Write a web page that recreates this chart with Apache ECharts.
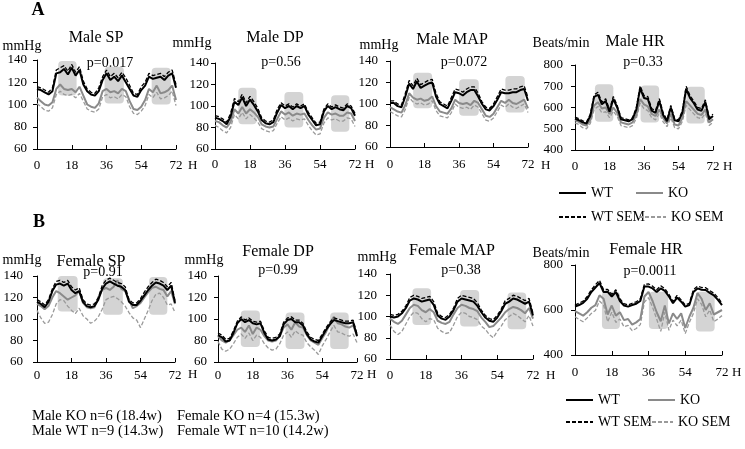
<!DOCTYPE html>
<html><head><meta charset="utf-8">
<script src="https://cdn.jsdelivr.net/npm/echarts@6/dist/echarts.min.js"></script>
<style>html,body{margin:0;padding:0;background:#fff}#c{width:745px;height:449px}</style>
</head><body><div id="c"></div>
<script>
// ---------- DATA ----------
const hours = [0,2,4,6,8,10,12,14,16,18,20,22,24,26,28,30,32,34,36,38,40,42,44,46,48,50,52,54,56,58,60,62,64,66,68,70,72];
const xTicks = [0,18,36,54,72];

const maleSP_WT    = [114,113,111,109,112,128,129,132,127,133,126,131,118,112,109,108,112,122,128,122,125,121,126,120,114,108,107,113,117,125,123,124,125,122,126,128,115];
const maleSP_WTSEM = [116,115,113,111,115,131,133,135,130,136,129,134,121,114,111,110,115,125,131,125,128,124,129,124,117,110,109,116,120,128,126,127,128,125,129,131,118];
const maleSP_KO    = [106,103,100,99,102,114,118,114,113,114,111,116,108,100,98,97,101,112,114,111,112,110,114,112,103,96,95,98,104,114,111,117,110,111,113,117,104];
const maleSP_KOSEM = [101,98,95,94,97,109,112,109,108,109,106,110,103,96,94,93,96,107,109,106,107,105,109,107,98,92,91,94,99,109,106,111,105,106,108,112,99];
const maleSP_dark  = [[11,20.5,108,139],[35,45,101,134],[59.4,69.3,100,133]];

const maleDP_WT    = [89,88,86,83,90,104,101,108,100,106,101,95,87,84,83,85,94,101,98,100,97,100,98,100,92,87,82,83,95,100,97,99,97,96,100,98,91];
const maleDP_WTSEM = [91,90,88,85,93,107,104,111,103,109,104,98,89,86,85,87,97,103,100,102,99,102,100,102,94,89,84,85,97,102,99,101,99,98,102,100,93];
const maleDP_KO    = [86,85,82,80,85,97,93,99,93,97,94,90,83,81,80,81,88,95,92,94,91,93,92,93,87,82,78,79,89,94,92,93,91,91,94,93,86];
const maleDP_KOSEM = [82,80,77,75,80,92,88,94,88,92,89,85,79,77,76,77,84,90,87,89,86,88,87,88,82,77,73,74,84,89,87,88,86,86,89,88,81];
const maleDP_dark  = [[12,21.4,83,117],[35.7,45.4,80,113],[59.7,69.1,76,110]];

const maleMAP_WT    = [101,101,98,97,107,119,114,121,115,117,119,120,107,100,98,96,103,111,110,108,111,113,113,107,100,95,94,98,104,111,110,110,111,111,113,114,103];
const maleMAP_WTSEM = [103,103,100,99,110,122,117,124,118,120,122,123,110,102,100,98,106,114,113,111,114,116,116,110,102,97,96,100,107,114,113,113,114,114,116,117,106];
const maleMAP_KO    = [97,95,93,92,99,110,106,104,105,103,104,107,98,93,92,91,96,104,101,100,101,99,103,101,95,89,88,91,97,103,101,104,101,100,102,104,96];
const maleMAP_KOSEM = [93,91,89,88,95,106,102,100,101,99,100,103,94,89,88,87,92,100,97,96,97,95,99,97,91,85,84,87,93,99,97,100,97,96,98,100,92];
const maleMAP_dark  = [[12.1,22,96,129],[36.1,46.3,89,123],[60.2,70.3,92,126]];

const maleHR_WT    = [548,540,530,525,560,650,660,615,630,580,640,600,545,540,535,545,590,690,645,640,585,575,630,565,535,600,540,535,575,688,645,620,590,585,625,545,560];
const maleHR_WTSEM = [555,547,537,532,568,660,672,625,641,590,652,610,552,547,542,552,600,702,656,651,595,585,641,575,542,610,547,542,584,700,656,630,600,595,636,553,568];
const maleHR_KO    = [540,532,520,515,540,610,625,595,600,570,600,575,530,525,520,530,565,640,615,605,570,560,590,550,525,570,520,515,550,630,610,590,570,565,590,530,545];
const maleHR_KOSEM = [528,520,505,500,525,590,605,575,580,552,582,558,515,510,505,515,548,620,595,585,552,542,572,532,510,552,505,500,534,610,590,570,552,548,572,515,530];
const maleHR_dark  = [[10.4,20,533,709],[34.2,43.9,529,703],[58.1,67.7,525,698]];

const femaleSP_WT    = [116,114,111,116,126,132,133,131,133,127,124,126,116,112,111,112,118,128,133,135,133,131,130,127,116,113,113,117,122,127,131,134,133,131,127,131,115];
const femaleSP_WTSEM = [118,116,113,118,128,135,136,134,136,130,127,129,118,114,113,114,120,131,136,138,136,134,133,130,118,115,115,119,125,130,134,137,136,134,130,134,117];
const femaleSP_KO    = [114,112,109,112,120,126,124,121,118,120,122,126,115,111,110,111,120,127,129,127,130,136,128,126,118,110,112,115,120,125,129,130,128,127,121,126,114];
const femaleSP_KOSEM = [108,101,96,97,104,114,118,117,112,108,105,110,103,100,96,98,102,109,118,120,121,119,116,112,106,101,99,92,100,108,117,123,124,120,113,114,106];
const femaleSP_dark  = [[10.8,21.2,107,140],[34.4,44.8,104,138],[58.5,68,104,139]];

const femaleDP_WT    = [85,83,79,80,87,96,100,97,99,96,95,96,87,81,80,81,84,95,99,100,97,97,94,86,81,79,78,84,90,95,99,98,97,96,96,97,84];
const femaleDP_WTSEM = [87,85,81,82,89,98,102,99,101,98,97,98,89,83,82,83,86,97,101,102,99,99,96,88,83,81,80,86,92,97,101,100,99,98,98,99,86];
const femaleDP_KO    = [84,80,78,80,85,90,92,88,94,86,92,90,84,80,79,80,84,92,95,90,97,93,92,85,80,78,76,82,88,96,102,96,95,93,92,94,85];
const femaleDP_KOSEM = [79,72,70,72,77,83,86,82,87,80,85,83,77,73,71,72,77,85,88,83,89,86,85,78,74,71,67,75,81,88,94,88,87,85,84,86,78];
const femaleDP_dark  = [[11.8,21.7,74,108],[35,44.8,72,106],[58.1,67.7,72,106]];

const femaleMAP_WT    = [100,99,100,103,108,115,117,116,114,115,116,111,101,98,97,100,106,114,117,116,115,114,110,104,99,96,95,99,105,112,114,117,116,114,112,114,101];
const femaleMAP_WTSEM = [102,101,102,105,110,118,120,119,117,118,119,114,103,100,99,102,108,117,120,119,118,117,113,106,101,98,97,101,107,115,117,120,119,117,115,117,103];
const femaleMAP_KO    = [98,95,93,96,102,108,111,110,106,104,107,104,96,94,93,95,102,108,111,110,108,107,105,99,95,90,91,95,99,104,107,109,108,106,103,108,98];
const femaleMAP_KOSEM = [92,86,83,86,93,100,104,103,98,95,98,97,89,86,84,85,92,100,104,103,100,99,97,91,88,83,80,86,91,97,100,103,101,98,95,101,91];
const femaleMAP_dark  = [[11.3,20.7,92,126.5],[35.3,44.9,90.5,125],[59.2,68.6,88,122.5]];

const femaleHR_WT    = [615,622,632,650,680,700,720,680,681,660,680,640,620,615,622,628,640,705,704,696,680,696,685,660,630,655,637,615,622,680,696,690,689,676,665,645,622];
const femaleHR_WTSEM = [622,630,640,660,690,712,732,690,692,670,690,650,628,622,630,636,650,715,716,706,690,708,695,670,638,665,645,622,630,690,706,700,699,686,675,655,630];
const femaleHR_KO    = [595,585,575,590,610,622,665,650,580,620,575,590,555,560,535,545,560,660,680,640,590,550,620,540,585,560,585,520,570,610,675,650,600,630,580,590,600];
const femaleHR_KOSEM = [570,558,548,565,585,598,640,622,548,590,545,560,525,532,508,518,535,635,655,612,560,505,590,510,555,530,555,495,545,585,650,625,570,600,548,560,575];
const femaleHR_dark  = [[13.2,22,516,681],[36.2,45.6,516,681],[59.2,68.4,504,681]];

const seriesNames = ['WT','KO','WT SEM','KO SEM'];
const footnotes = [['Male KO n=6 (18.4w)','Female KO n=4 (15.3w)'],['Male WT n=9 (14.3w)','Female WT n=10 (14.2w)']];

// ---------- LAYOUT ----------
const FONT = '"Liberation Serif","Times New Roman",serif';
const panels = [
  {title:'Male SP', p:'p=0.017', unit:'mmHg', d:[maleSP_WT,maleSP_KO,maleSP_WTSEM,maleSP_KOSEM], dark:maleSP_dark, y:[60,140,20],
   grid:{left:37,top:60,width:139,height:89}, xm:10, ym:10, tPos:[96,38], pPos:[110,63], uPos:[22,46], hPos:[188,166]},
  {title:'Male DP', p:'p=0.56', unit:'mmHg', d:[maleDP_WT,maleDP_KO,maleDP_WTSEM,maleDP_KOSEM], dark:maleDP_dark, y:[60,140,20],
   grid:{left:215,top:63,width:140,height:86}, xm:9, ym:6, tPos:[275,38], pPos:[281,62], uPos:[192,43], hPos:[365,165]},
  {title:'Male MAP', p:'p=0.072', unit:'mmHg', d:[maleMAP_WT,maleMAP_KO,maleMAP_WTSEM,maleMAP_KOSEM], dark:maleMAP_dark, y:[60,140,20],
   grid:{left:390,top:61,width:138,height:86}, xm:11, ym:12, tPos:[452,40], pPos:[464,62], uPos:[379,45], hPos:[541,166]},
  {title:'Male HR', p:'p=0.33', unit:'Beats/min', d:[maleHR_WT,maleHR_KO,maleHR_WTSEM,maleHR_KOSEM], dark:maleHR_dark, y:[400,800,100],
   grid:{left:575,top:65,width:138,height:85}, xm:10, ym:12, tPos:[635,42], pPos:[643,62], uPos:[561,43], hPos:[723,167]},
  {title:'Female SP', p:'p=0.91', unit:'mmHg', d:[femaleSP_WT,femaleSP_KO,femaleSP_WTSEM,femaleSP_KOSEM], dark:femaleSP_dark, y:[60,140,20],
   grid:{left:37,top:276,width:138,height:86}, xm:7, ym:14, tPos:[91,262], pPos:[103,272], uPos:[22,260], hPos:[188,375]},
  {title:'Female DP', p:'p=0.99', unit:'mmHg', d:[femaleDP_WT,femaleDP_KO,femaleDP_WTSEM,femaleDP_KOSEM], dark:femaleDP_dark, y:[60,140,20],
   grid:{left:218,top:276,width:139,height:86}, xm:7, ym:11, tPos:[278,252], pPos:[278,270], uPos:[204,260], hPos:[367,375]},
  {title:'Female MAP', p:'p=0.38', unit:'mmHg', d:[femaleMAP_WT,femaleMAP_KO,femaleMAP_WTSEM,femaleMAP_KOSEM], dark:femaleMAP_dark, y:[60,140,20],
   grid:{left:390,top:274,width:143,height:85}, xm:10, ym:13, tPos:[452,251], pPos:[461,270], uPos:[377,257], hPos:[546,376]},
  {title:'Female HR', p:'p=0.0011', unit:'Beats/min', d:[femaleHR_WT,femaleHR_KO,femaleHR_WTSEM,femaleHR_KOSEM], dark:femaleHR_dark, y:[400,800,200],
   grid:{left:575,top:265,width:147,height:90}, xm:11, ym:12, tPos:[646,250], pPos:[650,271], uPos:[561,253], hPos:[732,373]}
];

const lineStyles = [
  {color:'#000', width:2, type:'solid'},
  {color:'#8a8a8a', width:2, type:'solid'},
  {color:'#000', width:1.3, type:[4,2]},
  {color:'#9a9a9a', width:1.3, type:[4,2]}
];
const drawOrder = [3,1,2,0];

const grids=[], xAxes=[], yAxes=[], series=[], graphics=[];
function txt(t,x,y,size,opts){
  graphics.push({type:'text', x:x, y:y, silent:true, style:Object.assign({text:t, fontSize:size, fontFamily:FONT, fill:'#000', align:'center', verticalAlign:'middle'}, opts||{})});
}
panels.forEach((pn,i)=>{
  grids.push(Object.assign({containLabel:false}, pn.grid));
  xAxes.push({type:'value', gridIndex:i, min:0, max:72, interval:18,
    axisLine:{lineStyle:{color:'#000',width:1}}, axisTick:{inside:true,length:4,lineStyle:{color:'#000'}},
    axisLabel:{margin:pn.xm, fontSize:13, fontFamily:FONT, color:'#000', formatter:v=>xTicks.indexOf(v)>=0?String(v):''},
    splitLine:{show:false}});
  yAxes.push({type:'value', gridIndex:i, min:pn.y[0], max:pn.y[1], interval:pn.y[2],
    axisLine:{show:true,lineStyle:{color:'#000',width:1}}, axisTick:{show:true,inside:false,length:4,lineStyle:{color:'#000'}},
    axisLabel:{margin:pn.ym, fontSize:13, fontFamily:FONT, color:'#000'}, splitLine:{show:false}});
  series.push({type:'custom', name:'dark', xAxisIndex:i, yAxisIndex:i, z:1, silent:true,
    encode:{x:[0,1], y:[2,3]}, data:pn.dark,
    renderItem:(params, api)=>{
      const a = api.coord([api.value(0), api.value(3)]);
      const b = api.coord([api.value(1), api.value(2)]);
      return {type:'rect', shape:{x:a[0], y:a[1], width:b[0]-a[0], height:b[1]-a[1], r:4}, style:{fill:'#d4d4d4'}};
    }});
  drawOrder.forEach((k,j)=>{
    series.push({type:'line', name:seriesNames[k], xAxisIndex:i, yAxisIndex:i, z:3+j, symbol:'none', showSymbol:false,
      silent:true, lineStyle:lineStyles[k], itemStyle:{color:lineStyles[k].color},
      data:hours.map((h,m)=>[h, pn.d[k][m]])});
  });
  txt(pn.title, pn.tPos[0], pn.tPos[1], 16);
  txt(pn.p, pn.pPos[0], pn.pPos[1], 14);
  txt(pn.unit, pn.uPos[0], pn.uPos[1], 14);
  txt('H', pn.hPos[0], pn.hPos[1], 13, {align:'left'});
});
txt('A', 38, 10, 18, {fontWeight:'bold'});
txt('B', 39, 222, 18, {fontWeight:'bold'});
txt(footnotes[0][0], 32, 416, 14.5, {align:'left'});
txt(footnotes[0][1], 177, 416, 14.5, {align:'left'});
txt(footnotes[1][0], 32, 431, 14.5, {align:'left'});
txt(footnotes[1][1], 177, 431, 14.5, {align:'left'});

const legPos = [
  ['WT',558,186],['KO',635,186],['WT SEM',558,210],['KO SEM',638,210],
  ['WT',565,393],['KO',647,393],['WT SEM',565,415],['KO SEM',645,415]
];
const legends = legPos.map(l=>({data:[l[0]], left:l[1], top:l[2], padding:0, itemGap:0, itemWidth:27, itemHeight:14,
  selectedMode:false, itemStyle:{opacity:0, borderWidth:0},
  textStyle:{fontSize:14, fontFamily:FONT, color:'#000', padding:[0,0,0,0]}}));

const chart = echarts.init(document.getElementById('c'), null, {renderer:'canvas'});
chart.setOption({animation:false, backgroundColor:'#fff', grid:grids, xAxis:xAxes, yAxis:yAxes, series:series, legend:legends, graphic:graphics});
</script></body></html>
